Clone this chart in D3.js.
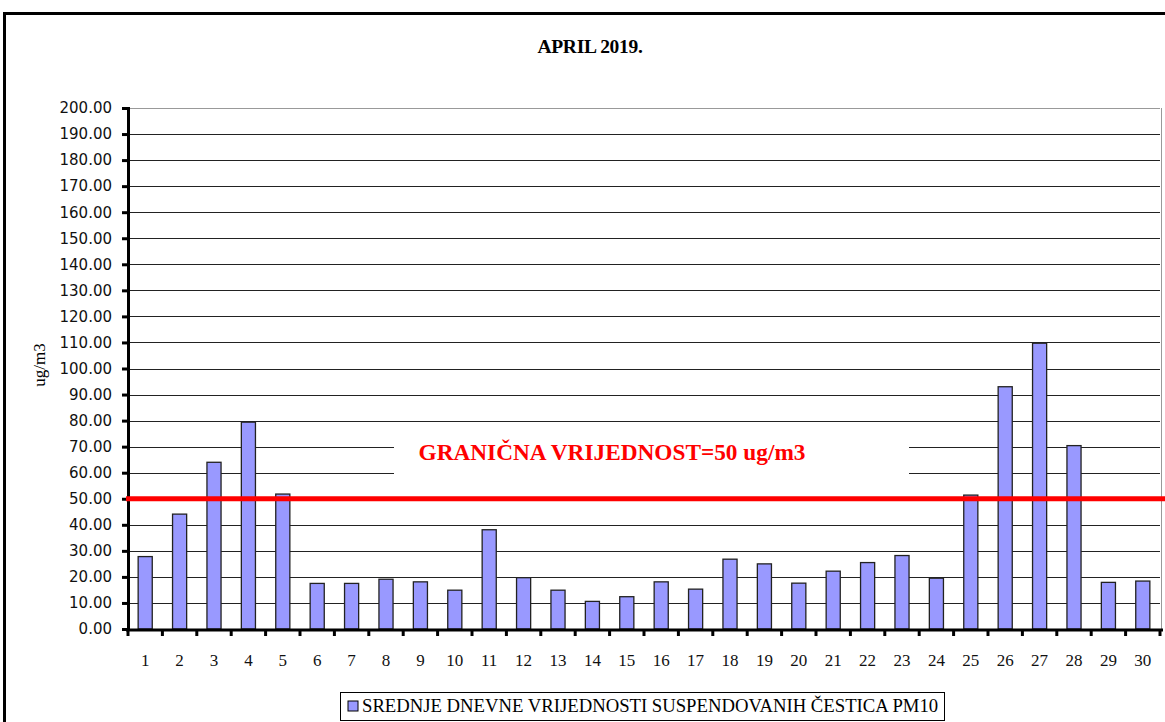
<!DOCTYPE html>
<html>
<head>
<meta charset="utf-8">
<script src="https://cdn.jsdelivr.net/npm/d3@7"></script>
<style>
  body { margin: 0; background: #fff; }
  svg { display: block; }
  .serif { font-family: "Liberation Serif", "Times New Roman", "DejaVu Serif", serif; }
</style>
</head>
<body>
<script>
const days = d3.range(1, 31).map(String);
const pm10 = [27.8, 44.1, 64.0, 79.4, 51.8, 17.5, 17.5, 19.1, 18.1, 14.9,
              38.1, 19.7, 14.9, 10.6, 12.4, 18.1, 15.3, 26.8, 25.0, 17.6,
              22.2, 25.5, 28.2, 19.5, 51.4, 93.0, 109.7, 70.4, 17.9, 18.4];
const limitValue = 50;
const yTicks = d3.range(0, 201, 10);

const chartTitle = "APRIL 2019.";
const yTitle = "ug/m3";
const limitLabel = "GRANIČNA VRIJEDNOST=50 ug/m3";
const legendLabel = "SREDNJE DNEVNE VRIJEDNOSTI SUSPENDOVANIH ČESTICA PM10";

const w = 1165;
const h = 722;
const plotL = 128, plotR = 1160, plotT = 108, plotB = 629;

const svg = d3.select("body").append("svg")
  .attr("width", w)
  .attr("height", h);

// outer frame
svg.append("path")
  .attr("d", `M4.5,${h + 5} V13.5 H${w + 5}`)
  .attr("fill", "none")
  .attr("stroke", "#000")
  .attr("stroke-width", 3);

svg.append("text")
  .attr("class", "serif")
  .attr("x", 590)
  .attr("y", 53)
  .attr("text-anchor", "middle")
  .style("font-size", "19.5px")
  .style("font-weight", "bold")
  .style("letter-spacing", "-0.3px")
  .text(chartTitle);

const x = d3.scaleBand()
  .domain(days)
  .range([plotL, plotR])
  .paddingInner(0.59)
  .paddingOuter(0.295);

const y = d3.scaleLinear()
  .domain([0, 200])
  .range([plotB, plotT]);

// plot area right border
svg.append("line")
  .attr("x1", plotR + 1.5).attr("x2", plotR + 1.5)
  .attr("y1", plotT).attr("y2", plotB)
  .attr("stroke", "#999")
  .attr("stroke-width", 1);

// gridlines
svg.append("g")
  .selectAll("line")
  .data(yTicks.filter(d => d > 0))
  .join("line")
  .attr("x1", plotL)
  .attr("x2", plotR)
  .attr("y1", d => Math.round(y(d)) + 0.5)
  .attr("y2", d => Math.round(y(d)) + 0.5)
  .attr("stroke", d => d === 200 ? "#999" : "#222")
  .attr("stroke-width", 1);

// white box behind the limit label
svg.append("rect")
  .attr("x", 394)
  .attr("y", y(73))
  .attr("width", 909 - 394)
  .attr("height", y(55) - y(73))
  .attr("fill", "#fff");

// bars
svg.append("g")
  .selectAll("rect")
  .data(pm10)
  .join("rect")
  .attr("x", (d, i) => x(days[i]))
  .attr("y", d => y(d))
  .attr("width", x.bandwidth())
  .attr("height", d => y(0) - y(d))
  .attr("fill", "#9999ff")
  .attr("stroke", "#222")
  .attr("stroke-width", 1.3);

// y axis
const yAxis = d3.axisLeft(y)
  .tickValues(yTicks)
  .tickFormat(d3.format(".2f"))
  .tickSize(6)
  .tickPadding(10);

const gy = svg.append("g")
  .attr("transform", `translate(${plotL},0)`)
  .call(yAxis);
gy.select(".domain").attr("stroke", "#000").attr("stroke-width", 3);
gy.selectAll(".tick line").attr("stroke", "#000").attr("stroke-width", 3);
gy.selectAll(".tick text")
  .style("font-family", "'DejaVu Sans', sans-serif")
  .style("font-size", "15px")
  .attr("fill", "#111");

// x axis: ticks between categories
const step = x.step();
const first = x(days[0]) - (step - x.bandwidth()) / 2;
const xBounds = d3.range(0, days.length + 1).map(i => first + i * step);

svg.append("line")
  .attr("x1", plotL - 2).attr("x2", plotR + 3)
  .attr("y1", plotB + 1).attr("y2", plotB + 1)
  .attr("stroke", "#000")
  .attr("stroke-width", 3);

svg.append("g")
  .selectAll("line")
  .data(xBounds)
  .join("line")
  .attr("x1", d => d).attr("x2", d => d)
  .attr("y1", plotB).attr("y2", plotB + 7)
  .attr("stroke", "#000")
  .attr("stroke-width", 3);

svg.append("g")
  .selectAll("text")
  .data(days)
  .join("text")
  .attr("class", "serif")
  .attr("x", d => x(d) + x.bandwidth() / 2)
  .attr("y", 666)
  .attr("text-anchor", "middle")
  .style("font-size", "17px")
  .attr("fill", "#111")
  .text(d => d);

// y title
svg.append("text")
  .attr("class", "serif")
  .attr("transform", `translate(45,365) rotate(-90)`)
  .attr("text-anchor", "middle")
  .style("font-size", "17px")
  .text(yTitle);

// limit line
svg.append("line")
  .attr("x1", plotL - 2)
  .attr("x2", w)
  .attr("y1", y(limitValue))
  .attr("y2", y(limitValue))
  .attr("stroke", "#ff0000")
  .attr("stroke-width", 5);

svg.append("text")
  .attr("class", "serif")
  .attr("x", 612)
  .attr("y", 460)
  .attr("text-anchor", "middle")
  .style("font-size", "23.3px")
  .style("font-weight", "bold")
  .attr("fill", "#ff0000")
  .text(limitLabel);

// legend
const legend = svg.append("g").attr("transform", "translate(340,692)");
legend.append("rect")
  .attr("x", 0.5).attr("y", 0.5)
  .attr("width", 604).attr("height", 28)
  .attr("fill", "#fff")
  .attr("stroke", "#000");
legend.append("rect")
  .attr("x", 8).attr("y", 9)
  .attr("width", 10).attr("height", 10)
  .attr("fill", "#9999ff")
  .attr("stroke", "#000");
legend.append("text")
  .attr("class", "serif")
  .attr("x", 22)
  .attr("y", 20)
  .style("font-size", "18.7px")
  .text(legendLabel);
</script>
</body>
</html>
